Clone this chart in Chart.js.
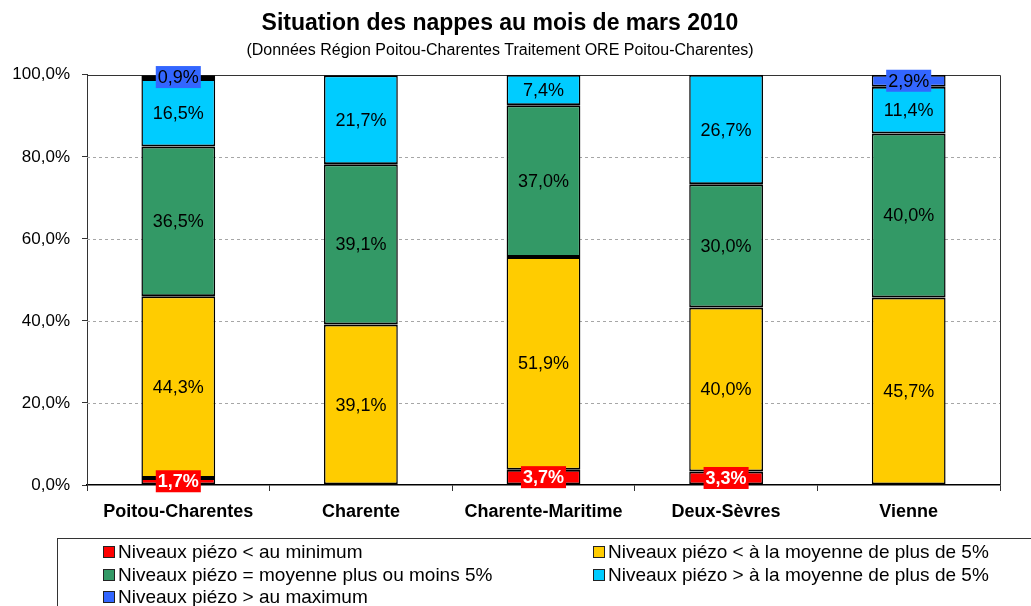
<!DOCTYPE html>
<html>
<head>
<meta charset="utf-8">
<script src="https://cdn.jsdelivr.net/npm/chart.js@4/dist/chart.umd.min.js"></script>
<style>
  html, body { margin: 0; padding: 0; background: #fff; }
  #wrap { width: 1031px; height: 606px; position: relative; }
</style>
</head>
<body>
<div id="wrap"><canvas id="c" width="1031" height="606"></canvas></div>
<script>
const categories = ['Poitou-Charentes', 'Charente', 'Charente-Maritime', 'Deux-Sèvres', 'Vienne'];
const seriesNames = [
  'Niveaux piézo < au minimum',
  'Niveaux piézo < à la moyenne de plus de 5%',
  'Niveaux piézo = moyenne plus ou moins 5%',
  'Niveaux piézo > à la moyenne de plus de 5%',
  'Niveaux piézo > au maximum'
];
const belowMin   = [1.7, 0, 3.7, 3.3, 0];
const belowAvg   = [44.3, 39.1, 51.9, 40.0, 45.7];
const nearAvg    = [36.5, 39.1, 37.0, 30.0, 40.0];
const aboveAvg   = [16.5, 21.7, 7.4, 26.7, 11.4];
const aboveMax   = [0.9, 0, 0, 0, 2.9];
const yTicks     = [0, 20, 40, 60, 80, 100];
const colors     = ['#FF0000', '#FFCC00', '#339966', '#00CCFF', '#3366FF'];

const fmt = v => v.toFixed(1).replace('.', ',') + '%';
const FONT = '"Liberation Sans", Arial, sans-serif';

const seriesValues = [belowMin, belowAvg, nearAvg, aboveAvg, aboveMax];
const datasets = seriesValues.map((vals, i) => ({
  label: seriesNames[i],
  data: vals,
  backgroundColor: colors[i],
  borderColor: '#000',
  borderWidth: {top: 2, bottom: 2, left: 1.5, right: 1.5},
  borderSkipped: false,
  categoryPercentage: 1.0,
  barPercentage: 0.404
}));

const gridPlugin = {
  id: 'gridPlugin',
  beforeDatasetsDraw(chart) {
    const {ctx, chartArea: a, scales: {y}} = chart;
    ctx.save();
    ctx.strokeStyle = '#a6a6a6';
    ctx.lineWidth = 1;
    ctx.setLineDash([3, 3]);
    yTicks.forEach(t => {
      if (t === 0 || t === 100) return;
      const py = Math.round(y.getPixelForValue(t)) + 0.5;
      ctx.beginPath(); ctx.moveTo(a.left, py); ctx.lineTo(a.right, py); ctx.stroke();
    });
    ctx.setLineDash([]);
    ctx.strokeStyle = '#333';
    ctx.beginPath();
    const top = Math.round(y.getPixelForValue(100)) + 0.5;
    ctx.moveTo(a.left, top); ctx.lineTo(Math.round(a.right) + 0.5, top);
    ctx.lineTo(Math.round(a.right) + 0.5, a.bottom);
    ctx.stroke();
    ctx.restore();
  }
};

const labelPlugin = {
  id: 'labelPlugin',
  afterDatasetsDraw(chart) {
    const {ctx} = chart;
    ctx.save();
    ctx.textAlign = 'center';
    ctx.textBaseline = 'middle';
    chart.data.datasets.forEach((ds, di) => {
      const meta = chart.getDatasetMeta(di);
      meta.data.forEach((bar, i) => {
        const v = ds.data[i];
        if (!v) return;
        const cx = bar.x;
        const cy = (bar.y + bar.base) / 2;
        const txt = fmt(v);
        if (di === 0 || di === 4) {
          ctx.font = (di === 0 ? 'bold ' : '') + '18px ' + FONT;
          const w = ctx.measureText(txt).width + 4;
          ctx.fillStyle = colors[di];
          ctx.fillRect(cx - w / 2, cy - 11, w, 22);
          ctx.fillStyle = di === 0 ? '#fff' : '#000';
          ctx.fillText(txt, cx, cy + 1);
        } else {
          ctx.font = '18px ' + FONT;
          ctx.fillStyle = '#000';
          ctx.fillText(txt, cx, cy + 1);
        }
      });
    });
    ctx.restore();
  }
};

const legendPlugin = {
  id: 'legendPlugin',
  afterDraw(chart) {
    const {ctx} = chart;
    ctx.save();
    ctx.strokeStyle = '#333';
    ctx.lineWidth = 1;
    ctx.strokeRect(57.5, 538.5, 1000, 100);
    const cols = [103, 593];
    const rows = [552, 575, 597];
    ctx.font = '19px ' + FONT;
    ctx.textBaseline = 'middle';
    ctx.textAlign = 'left';
    chart.data.datasets.forEach((ds, i) => {
      const x = cols[i % 2];
      const y = rows[Math.floor(i / 2)];
      ctx.fillStyle = ds.backgroundColor;
      ctx.fillRect(x, y - 6, 12, 12);
      ctx.strokeStyle = '#222';
      ctx.strokeRect(x + 0.5, y - 5.5, 11, 11);
      ctx.fillStyle = '#000';
      ctx.fillText(ds.label, x + 15, y + 1);
    });
    ctx.restore();
  }
};

new Chart(document.getElementById('c'), {
  type: 'bar',
  data: { labels: categories, datasets },
  options: {
    responsive: false,
    animation: false,
    layout: { padding: { left: 0, right: 31, top: 0, bottom: 0 } },
    plugins: {
      legend: { display: false },
      tooltip: { enabled: false },
      title: {
        display: true,
        text: 'Situation des nappes au mois de mars 2010',
        color: '#000',
        font: { family: FONT, size: 23, weight: 'bold' },
        padding: { top: 10, bottom: 0 }
      },
      subtitle: {
        display: true,
        text: '(Données Région Poitou-Charentes Traitement ORE Poitou-Charentes)',
        color: '#000',
        font: { family: FONT, size: 16 },
        padding: { top: 3, bottom: 15 }
      }
    },
    scales: {
      x: {
        stacked: true,
        grid: { display: true, drawOnChartArea: false, drawTicks: true, tickLength: 6, color: '#333', offset: true },
        border: { display: true, color: '#000', width: 1.5 },
        ticks: {
          color: '#000',
          padding: 10,
          font: { family: FONT, size: 18, weight: 'bold' }
        },
        afterFit(s) { s.height = 121; }
      },
      y: {
        stacked: true,
        min: 0,
        max: 100,
        afterBuildTicks(s) { s.ticks = yTicks.map(v => ({ value: v })); },
        grid: { display: true, drawOnChartArea: false, drawTicks: true, tickLength: 5, color: '#333' },
        border: { display: true, color: '#333', width: 1 },
        ticks: {
          color: '#000',
          padding: 12,
          font: { family: FONT, size: 17 },
          callback: v => fmt(v)
        },
        afterFit(s) { s.width = 87; }
      }
    }
  },
  plugins: [gridPlugin, labelPlugin, legendPlugin]
});
</script>
</body>
</html>
